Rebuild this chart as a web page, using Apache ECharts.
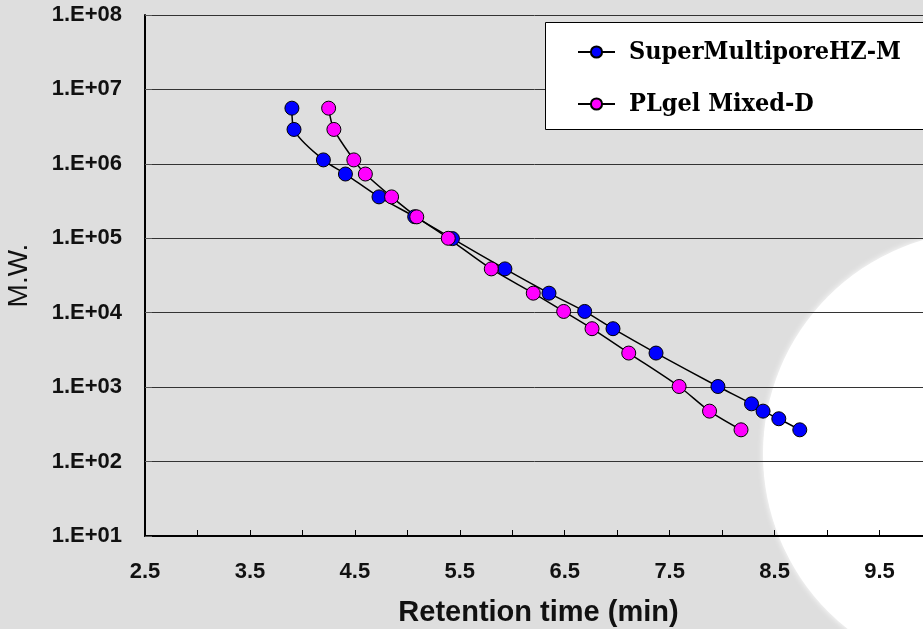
<!DOCTYPE html>
<html>
<head>
<meta charset="utf-8">
<script src="https://cdn.jsdelivr.net/npm/echarts@6/dist/echarts.min.js"></script>
<style>
  html, body { margin: 0; padding: 0; background: #dedede; }
  #chart { width: 923px; height: 629px; }
</style>
</head>
<body>
<div id="chart"></div>
<script>
// retention time (min) vs molecular weight
const hzTime = [3.90, 3.92, 4.20, 4.41, 4.73, 5.07, 5.43, 5.93, 6.35, 6.69, 6.96, 7.37, 7.96, 8.28, 8.39, 8.54, 8.74];
const hzMW   = [5.6e6, 2.9e6, 1.13e6, 7.3e5, 3.6e5, 1.95e5, 9.9e4, 3.88e4, 1.83e4, 1.04e4, 6.1e3, 2.87e3, 1.02e3, 597, 476, 376, 267];
const plTime = [4.25, 4.30, 4.49, 4.60, 4.85, 5.09, 5.39, 5.80, 6.20, 6.49, 6.76, 7.11, 7.59, 7.88, 8.18];
const plMW   = [5.6e6, 2.9e6, 1.13e6, 7.3e5, 3.6e5, 1.94e5, 1.0e5, 3.88e4, 1.83e4, 1.04e4, 6.1e3, 2.87e3, 1.02e3, 476, 267];
const seriesNames = ['SuperMultiporeHZ-M', 'PLgel Mixed-D'];

const pairs = (xs, ys) => xs.map((x, i) => [x, ys[i]]);

const chart = echarts.init(document.getElementById('chart'));

const lineSeries = (name, data, color) => ({
  name,
  type: 'line',
  data,
  smooth: 0.3,
  symbol: 'circle',
  symbolSize: 14,
  lineStyle: { color: '#000', width: 1.5 },
  itemStyle: { color, borderColor: '#000', borderWidth: 1 },
  z: 3
});

chart.setOption({
  animation: false,
  backgroundColor: '#dedede',
  graphic: [
    {
      type: 'circle',
      z: -10,
      shape: { cx: 986, cy: 454, r: 223 },
      style: { fill: '#fff', shadowBlur: 6, shadowColor: '#fff' }
    },
    {
      type: 'rect',
      z: 10,
      shape: { x: 545.5, y: 22.5, width: 420, height: 107 },
      style: { fill: '#fff', stroke: '#000', lineWidth: 1 }
    }
  ],
  legend: {
    orient: 'vertical',
    left: 577,
    top: 39,
    padding: 0,
    itemWidth: 37,
    itemHeight: 14,
    itemGap: 26,
    z: 11,
    textStyle: {
      fontFamily: '"DejaVu Serif Condensed", "DejaVu Serif", serif',
      fontWeight: 'bold',
      fontSize: 25,
      color: '#000',
      lineHeight: 26,
      padding: [0, 0, 0, 9]
    },
    data: seriesNames
  },
  grid: { left: 145, width: 787, top: 15, bottom: 93, outerBoundsMode: 'none' },
  xAxis: {
    type: 'value',
    min: 2.5,
    max: 10,
    interval: 1,
    name: 'Retention time (min)',
    nameLocation: 'middle',
    nameGap: 62,
    nameTextStyle: { fontFamily: 'Liberation Sans, Arial', fontWeight: 'bold', fontSize: 29, color: '#111' },
    axisLine: { lineStyle: { color: '#000', width: 2 } },
    axisTick: { inside: true, length: 6, lineStyle: { color: '#000', width: 1 } },
    minorTick: { show: true, splitNumber: 2, length: 6, lineStyle: { color: '#000', width: 1 } },
    axisLabel: {
      margin: 25,
      showMaxLabel: false,
      fontFamily: 'Liberation Sans, Arial',
      fontWeight: 'bold',
      fontSize: 22,
      color: '#111',
      formatter: v => v.toFixed(1)
    },
    splitLine: { show: false }
  },
  yAxis: {
    type: 'log',
    logBase: 10,
    min: 10,
    max: 1e8,
    name: 'M.W.',
    nameLocation: 'middle',
    nameGap: 112,
    nameTextStyle: { fontFamily: 'Liberation Sans, Arial', fontSize: 28, color: '#111' },
    axisLine: { lineStyle: { color: '#000', width: 2 } },
    axisTick: { inside: true, length: 7, lineStyle: { color: '#555', width: 1 } },
    axisLabel: {
      margin: 23,
      fontFamily: 'Liberation Sans, Arial',
      fontWeight: 'bold',
      fontSize: 22,
      color: '#111',
      formatter: v => '1.E+' + String(Math.round(Math.log10(v))).padStart(2, '0')
    },
    splitLine: { show: true, lineStyle: { color: '#333', width: 1 } }
  },
  series: [
    lineSeries(seriesNames[0], pairs(hzTime, hzMW), '#0000ff'),
    lineSeries(seriesNames[1], pairs(plTime, plMW), '#ff00ff')
  ]
});
</script>
</body>
</html>
